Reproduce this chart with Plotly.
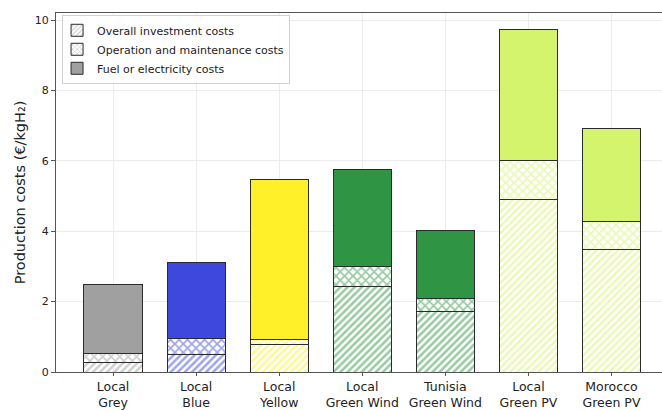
import plotly.graph_objects as go

# Production pathways (x categories)
categories = ["Local<br>Grey", "Local<br>Blue", "Local<br>Yellow", "Local<br>Green Wind",
              "Tunisia<br>Green Wind", "Local<br>Green PV", "Morocco<br>Green PV"]

# Cost components in €/kgH2
investment = [0.28, 0.51, 0.77, 2.44, 1.73, 4.89, 3.49]
operation = [0.25, 0.43, 0.14, 0.57, 0.37, 1.11, 0.80]
fuel = [1.97, 2.18, 4.57, 2.73, 1.93, 3.74, 2.64]

colors = ["#a0a0a0", "#3f48dc", "#fff02a", "#2f9544", "#2f9544", "#d5f46e", "#d5f46e"]

series_names = ["Overall investment costs", "Operation and maintenance costs",
                "Fuel or electricity costs"]

x = list(range(len(categories)))
outline = dict(color="#2b2b2b", width=1)
width = 0.7

fig = go.Figure()

fig.add_trace(go.Bar(
    x=x, y=investment, width=width, showlegend=False,
    marker=dict(color="white", line=outline,
                pattern=dict(shape="/", fgcolor=colors, bgcolor="white",
                             size=5, solidity=0.5, fillmode="overlay")),
))
fig.add_trace(go.Bar(
    x=x, y=operation, width=width, showlegend=False,
    marker=dict(color="white", line=outline,
                pattern=dict(shape="x", fgcolor=colors, bgcolor="white",
                             size=6, solidity=0.5, fillmode="overlay")),
))
fig.add_trace(go.Bar(
    x=x, y=fuel, width=width, showlegend=False,
    marker=dict(color=colors, line=outline),
))

# Legend entries (grey swatches)
legend_grey = "#a0a0a0"
fig.add_trace(go.Bar(x=[None], y=[None], name=series_names[0],
                     marker=dict(color="white", line=outline,
                                 pattern=dict(shape="/", fgcolor=legend_grey, bgcolor="white",
                                              size=4, solidity=0.4, fillmode="overlay"))))
fig.add_trace(go.Bar(x=[None], y=[None], name=series_names[1],
                     marker=dict(color="white", line=outline,
                                 pattern=dict(shape="x", fgcolor=legend_grey, bgcolor="white",
                                              size=4, solidity=0.4, fillmode="overlay"))))
fig.add_trace(go.Bar(x=[None], y=[None], name=series_names[2],
                     marker=dict(color=legend_grey, line=outline)))

fig.update_layout(
    barmode="stack",
    width=662, height=410,
    margin=dict(l=56, r=0, t=13, b=38),
    paper_bgcolor="white", plot_bgcolor="white",
    font=dict(family="DejaVu Sans", color="#222222"),
    legend=dict(x=0.01, y=0.995, xanchor="left", yanchor="top",
                bgcolor="rgba(255,255,255,0.9)", bordercolor="#d0d0d0", borderwidth=1,
                font=dict(size=11), tracegroupgap=0, itemwidth=30,
                traceorder="normal", indentation=-6),
    xaxis=dict(
        tickmode="array", tickvals=x, ticktext=categories,
        range=[-0.687, 6.608], automargin=False,
        showgrid=True, gridcolor="#ececec", gridwidth=1,
        showline=True, linecolor="#555555", linewidth=1.2, mirror=True,
        ticks="outside", ticklen=3, tickcolor="#555555",
        tickfont=dict(size=12.5), zeroline=False,
    ),
    yaxis=dict(
        range=[0, 10.2], dtick=2, automargin=False,
        showgrid=True, gridcolor="#ececec", gridwidth=1,
        showline=True, linecolor="#555555", linewidth=1.2,
        ticks="outside", ticklen=4, tickcolor="#555555",
        tickfont=dict(size=11), zeroline=False,
        title=dict(text="Production costs (€/kgH₂)", font=dict(size=14.5), standoff=5),
    ),
)

fig.write_html("out.html")
